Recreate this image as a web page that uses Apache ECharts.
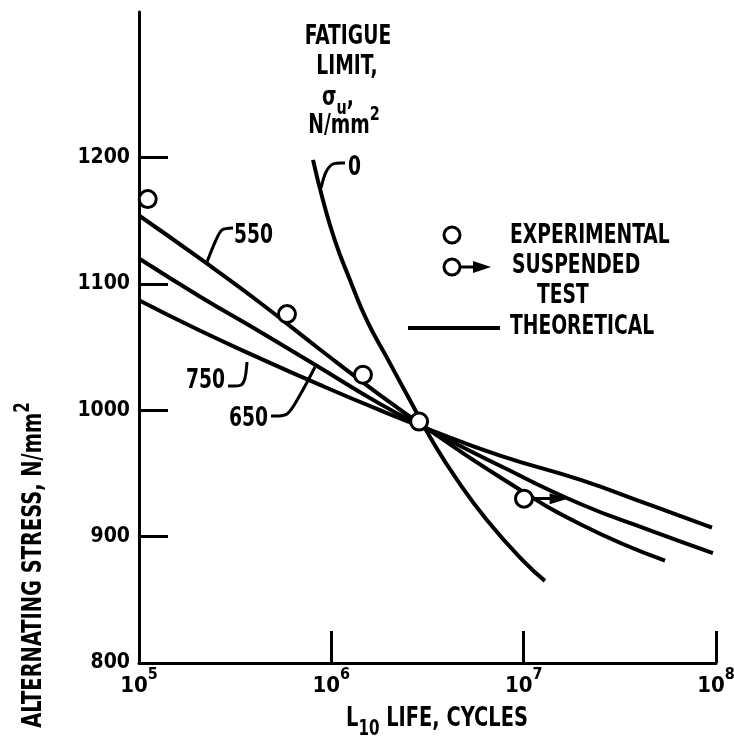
<!DOCTYPE html>
<html>
<head>
    <meta charset="utf-8">
    <title>Stress vs L10 life</title>
    <script src="https://cdn.jsdelivr.net/npm/echarts@6.0.0/dist/echarts.min.js"></script>
    <style>
        html, body { margin: 0; padding: 0; background: #fff; }
        #main { width: 734px; height: 742px; }
    </style>
</head>
<body>
<div id="main"></div>

<script type="text/javascript">
    var FONT = "'DejaVu Sans Condensed', 'Liberation Sans Narrow', sans-serif";
    var FS = 21;

    // theoretical curves, [L10 life (cycles), alternating stress (N/mm2)], one per fatigue limit
    var curve_0 = [[8.03e5, 1198], [9.05e5, 1166], [1.045e6, 1134], [1.25e6, 1103], [1.53e6, 1071], [1.97e6, 1040],
                   [2.56e6, 1008], [3.34e6, 976], [4.50e6, 945], [6.45e6, 913], [9.92e6, 881], [1.29e7, 865]];
    var curve_550 = [[1e5, 1154], [2.07e5, 1120], [4.26e5, 1085], [8.73e5, 1048], [1.79e6, 1012], [3.18e6, 985],
                     [7.54e6, 947], [1.96e7, 910], [5.43e7, 881]];
    var curve_650 = [[1e5, 1120], [2.07e5, 1090], [4.26e5, 1062], [8.23e5, 1036], [1.79e6, 1005], [3.18e6, 985],
                     [7.54e6, 956], [1.96e7, 926], [4.54e7, 905], [9.64e7, 887]];
    var curve_750 = [[1e5, 1087], [2.07e5, 1063], [4.26e5, 1041], [8.73e5, 1020], [1.79e6, 1000], [3.18e6, 985],
                     [7.54e6, 964], [1.96e7, 945], [4.54e7, 925], [9.53e7, 907]];

    var experimental = [[1.11e5, 1167], [5.88e5, 1076], [1.46e6, 1028], [2.86e6, 991]];
    var suspended = [[1.004e7, 930]];
    var suspendedArrow = [[1.12e7, 930], [1.52e7, 930]];

    var yTickValues = [900, 1000, 1100, 1200];
    var yLabelValues = [800, 900, 1000, 1100, 1200];

    var myChart = echarts.init(document.getElementById('main'));

    function curve(name, data) {
        return {
            name: name, type: 'line', data: data, smooth: 0.5, symbol: 'none',
            lineStyle: {color: '#000', width: 4}, z: 2
        };
    }

    // rich styles: a = normal text, s = superscript, u = subscript
    function richStyles(size, lh) {
        return {
            a: {fontFamily: FONT, fontSize: size, fontWeight: 'bold', lineHeight: lh || 38, verticalAlign: 'middle'},
            s: {fontFamily: FONT, fontSize: size - 6, fontWeight: 'bold', verticalAlign: 'top'},
            u: {fontFamily: FONT, fontSize: size - 6, fontWeight: 'bold', verticalAlign: 'bottom'}
        };
    }

    // condensed look: bigger font squeezed horizontally
    function txt(x, y, text, align, size) {
        size = size || 26;
        return {
            type: 'text', x: x, y: y, z: 10, scaleX: 0.8,
            style: {
                text: text, fill: '#000', fontFamily: FONT, fontSize: size, fontWeight: 'bold',
                align: align || 'left', verticalAlign: 'middle', rich: richStyles(size, 42)
            }
        };
    }

    function leader(points) {
        return {type: 'polyline', z: 10, shape: {points: points, smooth: 0.3},
                style: {stroke: '#000', lineWidth: 3, fill: null}};
    }

    var yTitle = txt(34, 565, '{a|ALTERNATING STRESS, N/mm}{s|2}', 'center', 27);
    yTitle.rotation = Math.PI / 2;

    var graphic = [
        yTitle,
        txt(346, 719, '{a|L}{u|10}{a| LIFE, CYCLES}', 'left', 27),

        // fatigue limit heading
        txt(348, 37, 'FATIGUE', 'center'),
        txt(347, 67, 'LIMIT,', 'center'),
        txt(338, 98, '{a|σ}{u|u}{a|,}', 'center'),
        txt(344, 126, '{a|N/mm}{s|2}', 'center'),

        // curve labels
        txt(348, 168, '0'),
        leader([[321, 188], [326, 172], [333, 164], [345, 163]]),
        txt(234, 236, '550'),
        leader([[207, 262], [216, 240], [222, 230], [233, 228]]),
        txt(225, 381, '750', 'right'),
        leader([[228, 386], [241, 385], [245, 378], [247, 362]]),
        txt(268, 419, '650', 'right'),
        leader([[271, 416], [287, 414], [300, 395], [315, 367]]),

        // legend
        {type: 'circle', z: 10, shape: {cx: 452, cy: 235, r: 8}, style: {fill: '#fff', stroke: '#000', lineWidth: 3}},
        txt(510, 236, 'EXPERIMENTAL'),
        {type: 'line', z: 10, shape: {x1: 460, y1: 267, x2: 476, y2: 267}, style: {stroke: '#000', lineWidth: 3}},
        {type: 'polygon', z: 10, shape: {points: [[473, 261], [491, 267], [473, 273]]}, style: {fill: '#000'}},
        {type: 'circle', z: 10, shape: {cx: 452, cy: 267, r: 8}, style: {fill: '#fff', stroke: '#000', lineWidth: 3}},
        txt(512, 266, 'SUSPENDED'),
        txt(537, 296, 'TEST'),
        {type: 'line', z: 10, shape: {x1: 408, y1: 328, x2: 500, y2: 328}, style: {stroke: '#000', lineWidth: 4}},
        txt(510, 327, 'THEORETICAL')
    ];

    var option = {
        backgroundColor: '#fff',
        animation: false,
        grid: {left: 139, right: 18, top: 12, bottom: 79, outerBoundsMode: 'none'},
        xAxis: {
            type: 'log', logBase: 10, min: 1e5, max: 1e8,
            axisLine: {lineStyle: {color: '#000', width: 3}},
            axisTick: {inside: true, length: 32, lineStyle: {color: '#000', width: 3}},
            minorTick: {show: false},
            splitLine: {show: false},
            axisLabel: {
                margin: 4, color: '#000', showMinLabel: true, showMaxLabel: true,
                formatter: function (v) {
                    var e = Math.round(Math.log(v) / Math.LN10);
                    return '{a|10}{s|' + e + '}';
                },
                rich: richStyles(22)
            }
        },
        yAxis: {
            type: 'value', min: 800, max: 1315, interval: 100,
            axisLine: {lineStyle: {color: '#000', width: 3}},
            axisTick: {inside: true, length: 29, customValues: yTickValues, lineStyle: {color: '#000', width: 3}},
            splitLine: {show: false},
            axisLabel: {
                margin: 9, color: '#000', fontFamily: FONT, fontSize: FS, fontWeight: 'bold',
                customValues: yLabelValues,
                formatter: function (v) { return String(v); }
            }
        },
        series: [
            curve('0', curve_0),
            curve('550', curve_550),
            curve('650', curve_650),
            curve('750', curve_750),
            {
                name: 'Experimental', type: 'scatter', data: experimental, symbol: 'circle', symbolSize: 17,
                itemStyle: {color: '#fff', borderColor: '#000', borderWidth: 3, opacity: 1}, z: 5
            },
            {
                name: 'Suspended test', type: 'scatter', data: suspended, symbol: 'circle', symbolSize: 17,
                itemStyle: {color: '#fff', borderColor: '#000', borderWidth: 3, opacity: 1}, z: 5,
                markLine: {
                    silent: true, symbol: ['none', 'triangle'], symbolSize: [11, 18],
                    lineStyle: {color: '#000', width: 3, type: 'solid'},
                    label: {show: false},
                    data: [[{coord: suspendedArrow[0]}, {coord: suspendedArrow[1]}]]
                }
            }
        ],
        graphic: graphic
    };

    myChart.setOption(option);
</script>

</body>
</html>
